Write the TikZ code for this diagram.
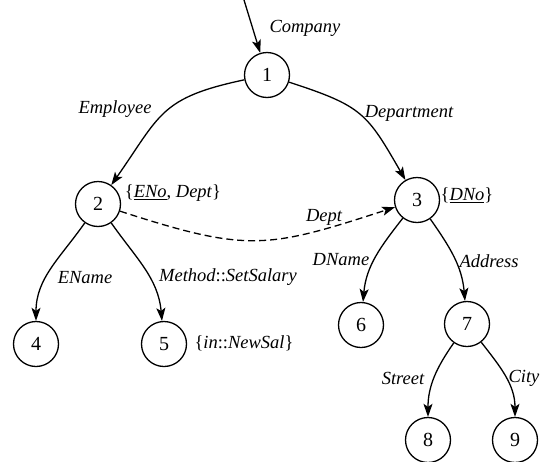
\documentclass[tikz,border=0pt]{standalone}
\usepackage{fontspec}
\setmainfont{Liberation Serif}
\usetikzlibrary{arrows.meta}
\begin{document}
\begin{tikzpicture}[x=1pt,y=1pt,
  state/.style={circle,draw,line width=1.3pt,minimum size=45pt,inner sep=0pt,
    font=\fontsize{20}{22}\selectfont},
  lbl/.style={inner sep=0pt,font=\fontsize{18.5}{20}\selectfont\itshape},
  edge/.style={line width=1.3pt,-{Stealth[length=13pt,width=9pt,inset=3pt]}},
  refedge/.style={edge,dash pattern=on 7pt off 4pt},
]
\useasboundingbox (0,0) rectangle (552,-461);

% object tree nodes
\node[state] (n1) at (267,-75) {1};
\node[state] (n2) at (98,-204) {2};
\node[state] (n3) at (417,-200) {3};
\node[state] (n4) at (36,-344) {4};
\node[state] (n5) at (164,-344) {5};
\node[state] (n6) at (361,-325) {6};
\node[state] (n7) at (467,-324) {7};
\node[state] (n8) at (428,-440) {8};
\node[state] (n9) at (515,-440) {9};

% root entry
\coordinate (root) at (244,0);
\draw[edge] (root) -- (n1);

% edges
\draw[edge] (n1) to[out=192,in=55,looseness=1.3] (n2);
\draw[edge] (n1) to[out=-18,in=120,looseness=1.3] (n3);
\draw[edge] (n2) to[out=235,in=90] (n4);
\draw[edge] (n2) to[out=-55,in=95] (n5);
\draw[edge] (n3) to[out=232,in=85] (n6);
\draw[edge] (n3) to[out=-55,in=95] (n7);
\draw[edge] (n7) to[out=235,in=90] (n8);
\draw[edge] (n7) to[out=-52,in=90] (n9);
\draw[refedge] (n2) to[out=-18,in=198,looseness=1.25] (n3);

% edge labels
\node[lbl] (lCompany) at (305,-28) {Company};
\node[lbl] (lEmployee) at (115,-109) {Employee};
\node[lbl] (lDepartment) at (409,-113) {Department};
\node[lbl] (lDept) at (324,-217) {Dept};
\node[lbl] (lDName) at (341,-260) {DName};
\node[lbl] (lAddress) at (489,-261) {Address};
\node[lbl] (lEName) at (85,-278) {EName};
\node[lbl] (lMethod) at (228,-277) {Method\textup{::}SetSalary};
\node[lbl] (lStreet) at (403,-378) {Street};
\node[lbl] (lCity) at (524,-378) {City};

% node annotations
\node[lbl] (aEmp) at (173,-193) {\textup{\{}\underline{ENo}\textup{,} Dept\textup{\}}};
\node[lbl] (aDep) at (467,-195) {\textup{\{}\underline{DNo}\textup{\}}};
\node[lbl] (aSal) at (244,-343) {\textup{\{}in\textup{::}NewSal\textup{\}}};
\end{tikzpicture}
\end{document}
